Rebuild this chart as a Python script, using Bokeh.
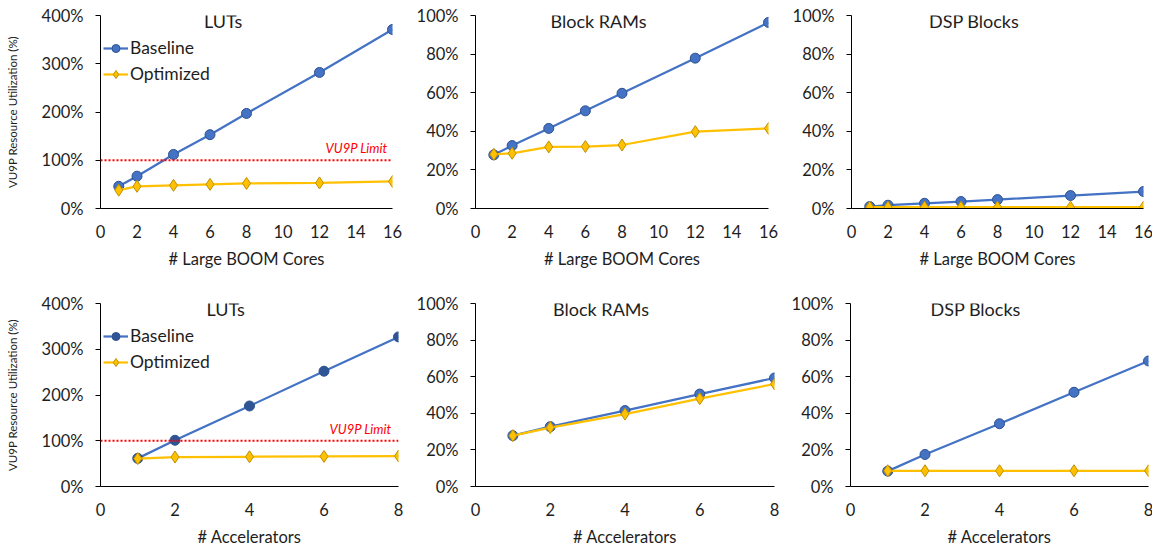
from bokeh.plotting import figure
from bokeh.layouts import column, row
from bokeh.models import (Label, Span, FixedTicker, Legend, LegendItem, Range1d,
                          PrintfTickFormatter)
from bokeh.embed import file_html
from bokeh.resources import INLINE

# ---------------- data ----------------
cores = [1, 2, 4, 6, 8, 12, 16]
accels = [1, 2, 4, 6, 8]

lut_cores_base = [46, 67, 112, 153, 197, 282, 371]
lut_cores_opt = [38, 46, 48, 50, 52, 53, 56]
bram_cores_base = [27.8, 32.6, 41.5, 50.6, 59.7, 77.9, 96.4]
bram_cores_opt = [28.1, 28.6, 31.9, 32.1, 32.9, 39.8, 41.5]
dsp_cores_base = [1.0, 1.7, 2.7, 3.6, 4.6, 6.7, 8.8]
dsp_cores_opt = [0.7, 0.7, 0.7, 0.7, 0.7, 0.7, 0.7]

lut_acc_base = [61.5, 101, 176, 252, 327]
lut_acc_opt = [61, 64.4, 65, 65.8, 66.6]
bram_acc_base = [27.8, 32.7, 41.5, 50.5, 59.3]
bram_acc_opt = [27.8, 32.2, 39.6, 48, 56]
dsp_acc_base = [8.4, 17.5, 34.3, 51.5, 68.6]
dsp_acc_opt = [8.6, 8.6, 8.6, 8.6, 8.6]

cores_ticks = [0, 2, 4, 6, 8, 10, 12, 14, 16]
accel_ticks = [0, 2, 4, 6, 8]
lut_ticks = [0, 100, 200, 300, 400]
pct_ticks = [0, 20, 40, 60, 80, 100]

limit_value = 100
limit_text = "VU9P Limit"
ylabel_text = "VU9P Resource Utilization (%)"

FONT = "Lato"
TXT = "#1e1e1e"
BLUE = "#4472C4"
BLUE_EDGE = "#2F528F"
GOLD = "#FFC000"
GOLD_EDGE = "#BF9000"


def panel(x, base, opt, xticks, yticks, title, xlabel, fw, fh, bl, br, bt, bb,
          ylabel=None, legend=False, limit=False, base_fill=BLUE, limit_off=-5):
    xmax = xticks[-1]
    ymax = yticks[-1]
    p = figure(frame_width=fw, frame_height=fh,
               x_range=Range1d(0, xmax), y_range=Range1d(0, ymax),
               output_backend="svg", toolbar_location=None,
               min_border_left=bl, min_border_right=br,
               min_border_top=bt, min_border_bottom=bb)
    p.outline_line_color = None
    p.xgrid.grid_line_color = None
    p.ygrid.grid_line_color = None

    p.xaxis.ticker = FixedTicker(ticks=xticks)
    p.yaxis.ticker = FixedTicker(ticks=yticks)
    p.yaxis.formatter = PrintfTickFormatter(format="%d%%")
    for ax in (p.xaxis, p.yaxis):
        ax.axis_line_color = "#000000"
        ax.axis_line_width = 1
        ax.major_tick_line_color = "#000000"
        ax.minor_tick_line_color = None
        ax.major_label_text_font = FONT
        ax.major_label_text_font_size = "16.5px"
        ax.major_label_text_color = TXT
    p.xaxis.major_tick_out = 0
    p.xaxis.major_tick_in = 0
    p.xaxis.major_label_standoff = 16
    p.xaxis.axis_label = xlabel
    p.xaxis.axis_label_standoff = 8
    p.xaxis.axis_label_text_font = FONT
    p.xaxis.axis_label_text_font_size = "16.5px"
    p.xaxis.axis_label_text_font_style = "normal"
    p.xaxis.axis_label_text_color = TXT

    p.yaxis.major_tick_out = 5
    p.yaxis.major_tick_in = 0
    p.yaxis.major_label_standoff = 12
    if ylabel:
        p.yaxis.axis_label = ylabel
        p.yaxis.axis_label_standoff = 20
        p.yaxis.axis_label_text_font = FONT
        p.yaxis.axis_label_text_font_size = "11.5px"
        p.yaxis.axis_label_text_font_style = "normal"
        p.yaxis.axis_label_text_color = TXT

    if limit:
        p.add_layout(Span(location=limit_value, dimension="width", line_color="#FF0000",
                          line_width=2, line_dash="2 2"))
        p.add_layout(Label(x=xmax, y=limit_value, x_offset=limit_off, y_offset=4,
                           text=limit_text, text_align="right", text_baseline="bottom",
                           text_font=FONT, text_font_size="13px",
                           text_font_style="italic", text_color="#FF0000"))

    lb = p.line(x, base, line_color=BLUE, line_width=2.25)
    sb = p.scatter(x, base, marker="circle", size=10, fill_color=base_fill,
                   line_color=BLUE_EDGE, line_width=1)
    lo = p.line(x, opt, line_color=GOLD, line_width=2.25)
    so = p.scatter(x, opt, marker="diamond", size=12, fill_color=GOLD,
                   line_color=GOLD_EDGE, line_width=1)

    p.add_layout(Label(x=xmax * 0.42, y=ymax * 0.972, text=title,
                       text_align="center", text_baseline="middle",
                       text_font=FONT, text_font_size="18px", text_color=TXT))

    if legend:
        leg = Legend(items=[LegendItem(label="Baseline", renderers=[lb, sb]),
                            LegendItem(label="Optimized", renderers=[lo, so])],
                     margin=0, padding=0, spacing=5,
                     glyph_width=25, glyph_height=20, label_height=20,
                     label_text_font=FONT, label_text_font_size="17.5px",
                     label_text_color=TXT, label_standoff=2,
                     background_fill_alpha=0, border_line_color=None)
        p.add_layout(leg)
        leg.location = (3, fh - 24 - 45)
    return p


f1 = panel(cores, lut_cores_base, lut_cores_opt, cores_ticks, lut_ticks, "LUTs",
           "# Large BOOM Cores", 292, 193, 100, 21, 15, 83,
           ylabel=ylabel_text, legend=True, limit=True)
f2 = panel(cores, bram_cores_base, bram_cores_opt, cores_ticks, pct_ticks, "Block RAMs",
           "# Large BOOM Cores", 293, 193, 60, 21, 15, 83)
f3 = panel(cores, dsp_cores_base, dsp_cores_opt, cores_ticks, pct_ticks, "DSP Blocks",
           "# Large BOOM Cores", 292, 193, 60, 13, 15, 83)

f4 = panel(accels, lut_acc_base, lut_acc_opt, accel_ticks, lut_ticks, "LUTs",
           "# Accelerators", 298, 183, 100, 15, 12, 63,
           ylabel=ylabel_text, legend=True, limit=True, base_fill="#2F5597", limit_off=-7)
f5 = panel(accels, bram_acc_base, bram_acc_opt, accel_ticks, pct_ticks, "Block RAMs",
           "# Accelerators", 299, 183, 60, 14, 12, 63)
f6 = panel(accels, dsp_acc_base, dsp_acc_opt, accel_ticks, pct_ticks, "DSP Blocks",
           "# Accelerators", 298, 183, 60, 8, 12, 63)

layout = column(row(f1, f2, f3, spacing=0), row(f4, f5, f6, spacing=0), spacing=0)

open("out.html", "w").write(file_html(layout, INLINE))
